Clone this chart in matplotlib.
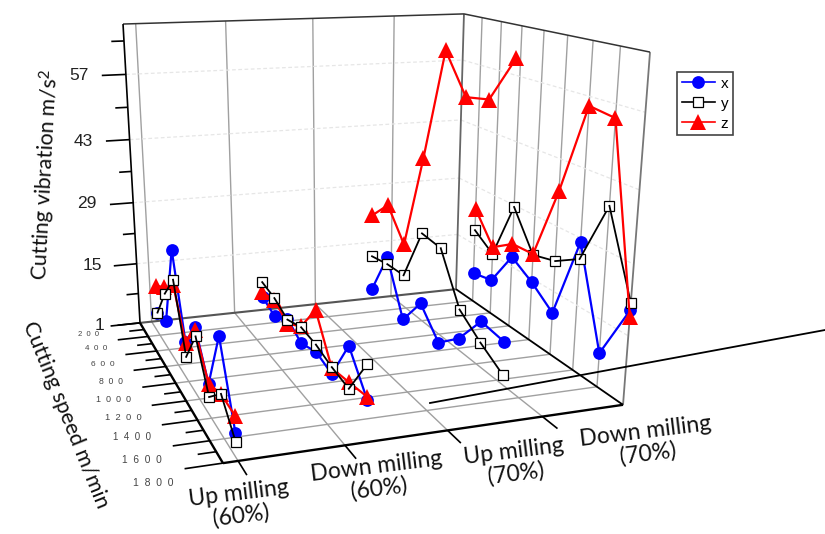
import numpy as np
import matplotlib
matplotlib.use("Agg")
import matplotlib.pyplot as plt
from matplotlib.lines import Line2D

plt.rcParams["mathtext.default"] = "regular"

W, H = 825, 534

# Data
speeds = [400, 600, 800, 1000, 1200, 1400, 1600, 1800]
group_names = ["Up milling\n(60%)", "Down milling\n(60%)", "Up milling\n(70%)", "Down milling\n(70%)"]
group_x = [0.03, 0.335, 0.67, 1.0]

x_vals = [
    [6.3, 7.6, 25.8, 9.5, 15.7, 7.9, 20.6, 6.3],
    [7.4, 5.9, 8.5, 6.3, 7.9, 6.8, 15.9, 9.1],
    [6.5, 16.9, 5.4, 12.1, 6.7, 10.9, 17.6, 16.9],
    [7.9, 9.0, 17.2, 14.2, 10.3, 28.2, 8.1, 20.1],
]
y_vals = [
    [6.3, 13.6, 19.5, 6.3, 13.9, 5.3, 9.7, 4.6],
    [10.9, 10.1, 8.3, 9.8, 9.4, 8.2, 7.5, 15.9],
    [14.5, 15.3, 15.5, 27.3, 26.7, 16.9, 13.4, 10.5],
    [18.5, 15.3, 28.6, 20.3, 21.6, 24.7, 37.8, 21.5],
]
z_vals = [
    [12.5, 15.0, 18.3, 9.3, 15.1, 7.9, 9.7, 9.5],
    [8.5, 9.6, 7.4, 10.0, 16.6, 8.0, 8.8, 9.7],
    [24.2, 28.8, 22.4, 43.0, 65.5, 58.1, 59.1, 67.4],
    [23.6, 16.9, 20.2, 20.5, 36.4, 55.2, 54.4, 18.7],
]

# axis ranges and ticks
x_ticks = [0.034, 0.282, 0.534, 0.78]
speed_min, speed_max = 200, 1800
speed_ticks = [200, 400, 600, 800, 1000, 1200, 1400, 1600, 1800]
vib_min, vib_max = 1, 67.5
vib_ticks = [1, 15, 29, 43, 57]
vib_minor = [8, 22, 36, 50, 64]

# where the box corners sit on the image, this fixes the camera
corners = [
    ((0, 0, 0), (140, 323)),
    ((1, 0, 0), (456, 289)),
    ((1, 1, 0), (623, 405)),
    ((0, 1, 0), (223, 463)),
    ((0, 0, 1), (123, 24)),
    ((1, 0, 1), (464, 14)),
    ((1, 1, 1), (650, 52)),
]
rows = []
for (a, b, c), (u, v) in corners:
    rows.append([a, b, c, 1, 0, 0, 0, 0, -u * a, -u * b, -u * c, -u])
    rows.append([0, 0, 0, 0, a, b, c, 1, -v * a, -v * b, -v * c, -v])
camera = np.linalg.svd(np.array(rows))[2][-1].reshape(3, 4)
far = np.linalg.svd(camera)[2][-1]
camera4 = np.array([camera[0], camera[1], far, camera[2]])

to_unit = np.array([
    [1, 0, 0, 0],
    [0, 1 / (speed_max - speed_min), 0, -speed_min / (speed_max - speed_min)],
    [0, 0, 1 / (vib_max - vib_min), -vib_min / (vib_max - vib_min)],
    [0, 0, 0, 1],
])

fig = plt.figure(figsize=(W / 100, H / 100), dpi=100)
ax = fig.add_axes([0, 0, 1, 1], projection="3d")
ax.set_axis_off()
ax.computed_zorder = False


def fixed_proj():
    # image pixels -> the 2d coordinates of the 3d axes
    disp = ax.transData.get_affine().get_matrix()
    back = np.linalg.inv(disp)
    flip = np.array([[1, 0, 0], [0, -1, H], [0, 0, 1]])
    m = back @ flip
    full = np.eye(4)
    full[0, [0, 1, 3]] = m[0]
    full[1, [0, 1, 3]] = m[1]
    full[3, [0, 1, 3]] = m[2]
    return full @ camera4 @ to_unit


ax.get_proj = fixed_proj


def seg(p, q, **kw):
    kw.setdefault("clip_on", False)
    kw.setdefault("solid_capstyle", "butt")
    ax.plot([p[0], q[0]], [p[1], q[1]], [p[2], q[2]], **kw)


GRID = "#a0a0a0"
DASH = "#e6e6e6"
s0, s1, v0, v1 = speed_min, speed_max, vib_min, vib_max

# walls and floor grid
for t in x_ticks:
    seg((t, s0, v0), (t, s0, v1), color=GRID, lw=1, zorder=1)
    seg((t, s0, v0), (t, s1, v0), color=GRID, lw=1, zorder=1)
    seg((t, s1, v0), (t, s1 + 120, v0), color="black", lw=1.2, zorder=1)
for s in speed_ticks[1:-1]:
    seg((0, s, v0), (1, s, v0), color=GRID, lw=1, zorder=1)
    seg((1, s, v0), (1, s, v1), color=GRID, lw=1, zorder=1)
for v in vib_ticks[1:]:
    seg((0, s0, v), (1, s0, v), color=DASH, lw=0.9, ls=(0, (3, 2)), zorder=1)
    seg((1, s0, v), (1, s1, v), color=DASH, lw=0.9, ls=(0, (3, 2)), zorder=1)

# box edges
seg((0, s0, v0), (1, s0, v0), color="#555555", lw=1.5, zorder=2)
seg((1, s0, v0), (1, s0, v1), color="#666666", lw=1.3, zorder=2)
seg((1, s1, v0), (1, s1, v1), color="#777777", lw=1.3, zorder=2)
seg((0, s0, v1), (1, s0, v1), color="#333333", lw=1.1, zorder=2)
seg((1, s0, v1), (1, s1, v1), color="#333333", lw=1.1, zorder=2)
seg((0, s0, v0), (0, s0, v1), color="black", lw=1.2, zorder=2)
seg((0, s0, v0), (0, s1, v0), color="black", lw=1.7, zorder=2)
seg((1, s0, v0), (1, s1, v0), color="black", lw=1.3, zorder=2)
seg((0, s1, v0), (1, s1, v0), color="black", lw=1.7, zorder=2)

# ticks on the left
for v in vib_ticks:
    seg((0, s0, v), (-0.065, s0, v), color="black", lw=1.2, zorder=2)
for v in vib_minor:
    seg((0, s0, v), (-0.034, s0, v), color="black", lw=1.2, zorder=2)
for s in speed_ticks:
    seg((0, s, v0), (-0.085, s, v0), color="black", lw=1.2, zorder=2)
for a, b in zip(speed_ticks[:-1], speed_ticks[1:]):
    seg((0, (a + b) / 2, v0), (-0.042, (a + b) / 2, v0), color="black", lw=1.2, zorder=2)

# series, each segment goes over the marker it starts from
styles = {
    "x": dict(color="#0000ff", marker="o", ms=9.2, mfc="#0000ff", mec="#0000ff", mew=0),
    "y": dict(color="black", marker="s", ms=7.5, mfc="white", mec="black", mew=0.9),
    "z": dict(color="#ff0000", marker="^", ms=11.5, mfc="#ff0000", mec="#ff0000", mew=0),
}
widths = {"x": 1.6, "y": 1.3, "z": 1.6}
series = {"x": x_vals, "y": y_vals, "z": z_vals}
orders = [["x", "z", "y"], ["x", "z", "y"], ["x", "y", "z"], ["x", "y", "z"]]

zo = 10
for g, gx in enumerate(group_x):
    for name in orders[g]:
        vals = series[name][g]
        st = styles[name]
        for i in range(len(speeds)):
            ax.plot([gx], [speeds[i]], [vals[i]], ls="none", clip_on=False, zorder=zo,
                    marker=st["marker"], ms=st["ms"], mfc=st["mfc"], mec=st["mec"], mew=st["mew"])
            zo += 1
            if i < len(speeds) - 1:
                ax.plot([gx, gx], speeds[i:i + 2], vals[i:i + 2], color=st["color"], lw=widths[name],
                        clip_on=False, zorder=zo)
                zo += 1

# stray axis line that crosses the picture
fig.add_artist(Line2D([430 / W, 825 / W], [1 - 403 / H, 1 - 330 / H], color="black", lw=1.3))

# text
label_font = "Lato"
tick_pos = [(79, 75), (83, 141), (87, 204), (92, 265), (100, 325)]
for v, (px, py) in zip(vib_ticks[::-1], tick_pos):
    fig.text(px / W, 1 - py / H, str(v), ha="center", va="center", family="Liberation Sans",
             fontsize=12.5, color="#222222")

speed_pos = [(88, 335), (96, 349), (103, 365), (111, 381), (114, 400), (123, 418), (132, 437), (142, 460), (153, 483)]
speed_sizes = np.linspace(5.5, 7.5, 9)
for s, (px, py), fs in zip(speed_ticks, speed_pos, speed_sizes):
    fig.text(px / W, 1 - py / H, "  ".join(str(s)), ha="center", va="center", family="Liberation Sans",
             fontsize=fs, color="#444444")

name_pos = [(240, 505), (378, 478), (515, 463), (647, 443)]
for name, (px, py) in zip(group_names, name_pos):
    fig.text(px / W, 1 - py / H, name, ha="center", va="center", family=label_font, fontsize=16.5,
             rotation=7, rotation_mode="anchor", linespacing=1.05, color="#111111")

fig.text(46 / W, 1 - 175 / H, "Cutting vibration m/s$^{2}$", ha="center", va="center", family=label_font,
         fontsize=15.5, rotation=87, rotation_mode="anchor", color="#111111")
fig.text(66 / W, 1 - 415 / H, "Cutting speed m/min", ha="center", va="center", family=label_font,
         fontsize=15.5, rotation=-68, rotation_mode="anchor", color="#111111")

# legend
handles = []
for name in ["x", "y", "z"]:
    st = styles[name]
    handles.append(Line2D([], [], label=name, lw=1.2, color=st["color"], marker=st["marker"],
                          ms=st["ms"], mfc=st["mfc"], mec=st["mec"], mew=st["mew"]))
leg = fig.legend(handles=handles, loc="upper left", bbox_to_anchor=(677 / W, 1 - 72 / H), fancybox=False,
                 framealpha=1, edgecolor="#444444", prop={"family": "Liberation Sans", "size": 11},
                 handlelength=2.2, borderpad=0.3, labelspacing=0.4, handletextpad=0.35, borderaxespad=0)
leg.get_frame().set_linewidth(1.2)

fig.savefig("out.png", dpi=100)
